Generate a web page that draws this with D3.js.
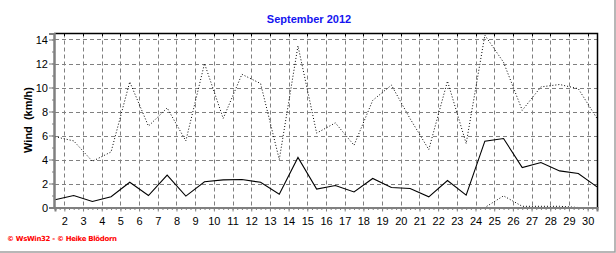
<!DOCTYPE html>
<html>
    <head>
        <meta charset="utf-8">
        <title>September 2012</title>
        <script src="https://d3js.org/d3.v7.min.js" charset="utf-8"></script>
        <style>
            body { margin: 0; background: #fff; }
            text { font-family: "Liberation Sans", Arial, sans-serif; }
        </style>
    </head>
    <body>
        <script>
            // days of the month, one value per day
            var days = d3.range(1, 31);
            var windAvg = [0.65, 1.0, 0.5, 0.9, 2.1, 1.0, 2.7, 0.95, 2.15, 2.3,
                           2.33, 2.1, 1.1, 4.17, 1.53, 1.83, 1.3, 2.42, 1.67, 1.58,
                           0.89, 2.25, 1.03, 5.53, 5.75, 3.33, 3.75, 3.05, 2.83, 1.72];
            var windMax = [5.9, 5.55, 3.85, 4.63, 10.47, 6.78, 8.3, 5.55, 12.0, 7.42,
                           11.1, 10.33, 4.0, 13.47, 6.2, 7.05, 5.19, 8.93, 10.2, 7.4,
                           4.83, 10.53, 5.33, 14.36, 12.1, 8.1, 10.05, 10.25, 9.9, 7.42];
            var windMin = [0, 0, 0, 0, 0, 0, 0, 0, 0, 0,
                           0, 0, 0, 0, 0, 0, 0, 0, 0, 0,
                           0, 0, 0, 0, 0.97, 0.1, 0.1, 0.1, 0, 0];
            var yTicks = [0, 2, 4, 6, 8, 10, 12, 14];
            var xLabels = d3.range(2, 31);

            var svg = d3.select("body")
                    .append("svg")
                    .attr("width", 616)
                    .attr("height", 253);

            svg.append("rect")
                .attr("width", 616).attr("height", 253)
                .style("fill", "white");

            var x = d3.scaleLinear().domain([1, 30]).range([55, 597]);
            var y = d3.scaleLinear().domain([0, 14.5]).range([207.5, 33.5]);

            // grid
            svg.append("g").selectAll("line")
                .data(xLabels)
                .enter()
              .append("line")
                .attr("x1", function(d) { return Math.round(x(d - 0.5)) + 0.5; })
                .attr("x2", function(d) { return Math.round(x(d - 0.5)) + 0.5; })
                .attr("y1", 33.5).attr("y2", 207.5)
                .style("stroke", "#808080")
                .style("stroke-dasharray", "4,3");

            svg.append("g").selectAll("line")
                .data(yTicks.slice(1))
                .enter()
              .append("line")
                .attr("x1", 55).attr("x2", 597)
                .attr("y1", function(d) { return Math.round(y(d)) + 0.5; })
                .attr("y2", function(d) { return Math.round(y(d)) + 0.5; })
                .style("stroke", "#808080")
                .style("stroke-dasharray", "4,3");

            // top and right frame, black
            svg.append("path")
                .attr("d", "M54,33.5H597.5V208")
                .style("fill", "none")
                .style("stroke", "black")
                .style("stroke-width", 1.5);

            // small ticks hanging from the top frame
            svg.append("g").selectAll("line")
                .data(xLabels)
                .enter()
              .append("line")
                .attr("x1", function(d) { return Math.round(x(d - 0.5)) + 0.5; })
                .attr("x2", function(d) { return Math.round(x(d - 0.5)) + 0.5; })
                .attr("y1", 33.5).attr("y2", 36)
                .style("stroke", "black");

            // series
            var line = function(vals) {
                return d3.line()
                    .x(function(d, i) { return x(days[i]); })
                    .y(function(d) { return y(d); })(vals);
            };

            svg.append("path")
                .attr("d", line(windMin))
                .style("fill", "none").style("stroke", "black")
                .style("stroke-dasharray", "1,2");
            svg.append("path")
                .attr("d", line(windMax))
                .style("fill", "none").style("stroke", "black")
                .style("stroke-dasharray", "1,2");
            svg.append("path")
                .attr("d", line(windAvg))
                .style("fill", "none").style("stroke", "black")
                .style("stroke-width", 1.1);

            // left axis
            var yMinor = svg.append("g")
                .attr("transform", "translate(54,0)")
                .call(d3.axisLeft(y).tickValues(d3.range(0, 15)).tickSize(2).tickFormat(""));
            var yAxis = svg.append("g")
                .attr("transform", "translate(54,0)")
                .call(d3.axisLeft(y).tickValues(yTicks).tickSize(5).tickPadding(1));

            // bottom axis
            var minorX = d3.range(1, 30.01, 0.25);
            var xMinor = svg.append("g")
                .attr("transform", "translate(0,207.5)")
                .call(d3.axisBottom(x).tickValues(minorX).tickSize(2.5).tickFormat(""));
            var xAxis = svg.append("g")
                .attr("transform", "translate(0,207.5)")
                .call(d3.axisBottom(x)
                    .tickValues(xLabels.map(function(d) { return d - 0.5; }))
                    .tickFormat(function(d) { return d + 0.5; })
                    .tickSize(4).tickPadding(6));

            [yMinor, yAxis, xMinor, xAxis].forEach(function(g) {
                g.selectAll("path.domain")
                    .style("stroke", "#808080")
                    .style("stroke-width", 2);
                g.selectAll(".tick line").style("stroke", "#808080");
                g.selectAll("text")
                    .style("font-size", "11px")
                    .style("font-family", "'Liberation Sans', Arial, sans-serif")
                    .style("fill", "black");
            });

            // titles
            svg.append("text")
                .attr("x", 309).attr("y", 22.5)
                .attr("text-anchor", "middle")
                .style("font-size", "11px")
                .style("font-weight", "bold")
                .style("fill", "#1414f0")
                .text("September 2012");

            svg.append("text")
                .attr("transform", "translate(31.5,120) rotate(-90)")
                .attr("text-anchor", "middle")
                .style("font-size", "11px")
                .style("font-weight", "bold")
                .style("white-space", "pre")
                .text("Wind  (km/h)");

            svg.append("text")
                .attr("x", 7).attr("y", 241)
                .attr("textLength", 110)
                .style("font-family", "'DejaVu Sans', sans-serif")
                .style("font-size", "7px")
                .style("font-weight", "bold")
                .style("fill", "red")
                .text("© WsWin32  -  © Heike Blödorn");

            // outer shadow border
            svg.append("path")
                .attr("d", "M615,0V252H0")
                .style("fill", "none")
                .style("stroke", "#a0a0a0")
                .style("stroke-width", 1.5);
        </script>
    </body>
</html>
